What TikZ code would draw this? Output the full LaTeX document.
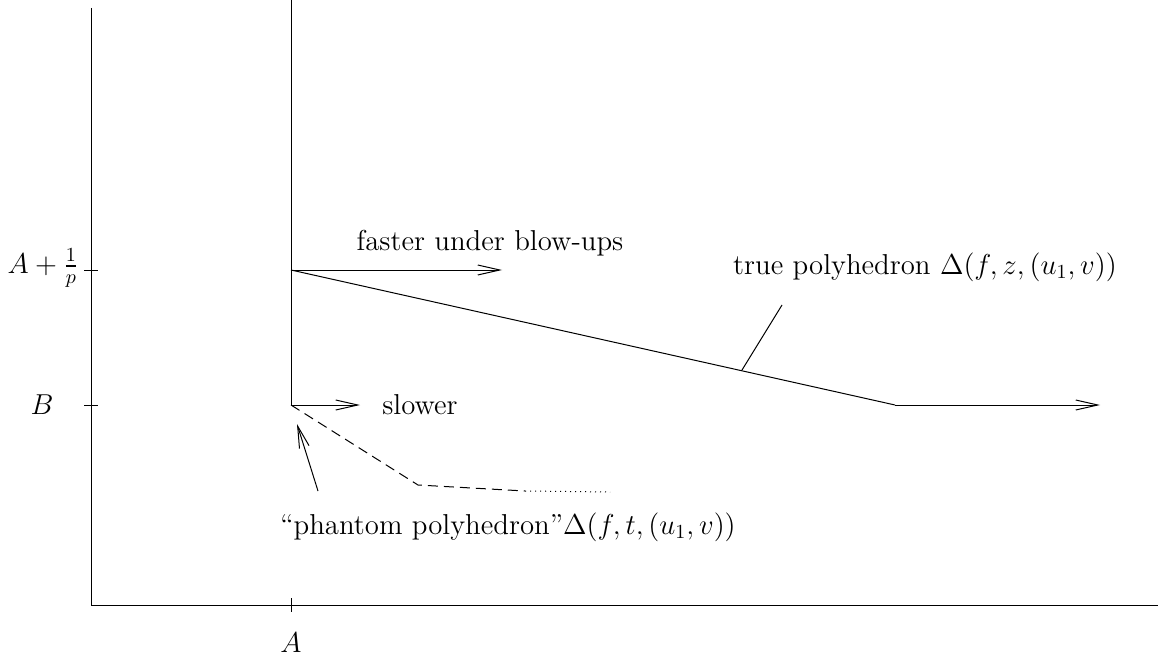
\documentclass[tikz,border=0pt]{standalone}
\usepackage{amsmath,amssymb}
\usepackage{tikz}
\usetikzlibrary{arrows.meta}

\begin{document}
\begin{tikzpicture}[
    x=0.5pt, y=-0.5pt,
    axis/.style={line width=0.5pt},
    arrow/.style={-{Straight Barb[length=11pt, width=5pt]}, line width=0.5pt},
    edge/.style={line width=0.5pt},
    label/.style={inner sep=0pt, font=\Large}
]
\useasboundingbox (0,0) rectangle (1161,663);
% axes
\coordinate (origin) at (91,605);
\coordinate (ytop) at (91,8);
\coordinate (xend) at (1158,605);
\draw[axis] (ytop) -- (origin) -- (xend);
% ticks
\coordinate (tA) at (291,605);
\coordinate (tAp) at (91,270);
\coordinate (tB) at (91,405);
\draw[axis] ([yshift=3.5pt]tA) -- ([yshift=-3.5pt]tA);
\draw[axis] ([xshift=-3.5pt]tAp) -- ([xshift=3.5pt]tAp);
\draw[axis] ([xshift=-3.5pt]tB) -- ([xshift=3.5pt]tB);
\node[label] (labA) at (291,643) {$A$};
\node[label] (labAp) at (43,268) {$A+\frac{1}{p}$};
\node[label] (labB) at (42,405) {$B$};
% true polyhedron
\coordinate (top) at (291,0);
\coordinate (corner) at (291,270);
\coordinate (base) at (291,405);
\coordinate (knee) at (895,405);
\coordinate (far) at (1100,405);
\draw[edge] (top) -- (base);
\draw[edge] (corner) -- (knee);
\draw[arrow] (knee) -- (far);
\draw[arrow] (corner) -- (502,270);
\node[label] (faster) at (490,243) {faster under blow-ups};
\node[label] (true) at (925,267) {true polyhedron $\Delta(f,z,(u_1,v))$};
\coordinate (hit) at (742,370);
\draw[edge] (782,305) -- (hit);
% phantom polyhedron
\draw[arrow] (base) -- (360,405);
\node[label] (slower) at (420,405) {slower};
\coordinate (pk1) at (418,485);
\coordinate (pk2) at (525,491);
\draw[edge, dashed, dash pattern=on 5pt off 3pt] (base) -- (pk1) -- (pk2);
\draw[edge, dotted] (pk2) -- (610,492);
\node[label] (phantom) at (508,527) {``phantom polyhedron''$\Delta(f,t,(u_1,v))$};
\draw[arrow] (318,491) -- (297,424);
\end{tikzpicture}
\end{document}
